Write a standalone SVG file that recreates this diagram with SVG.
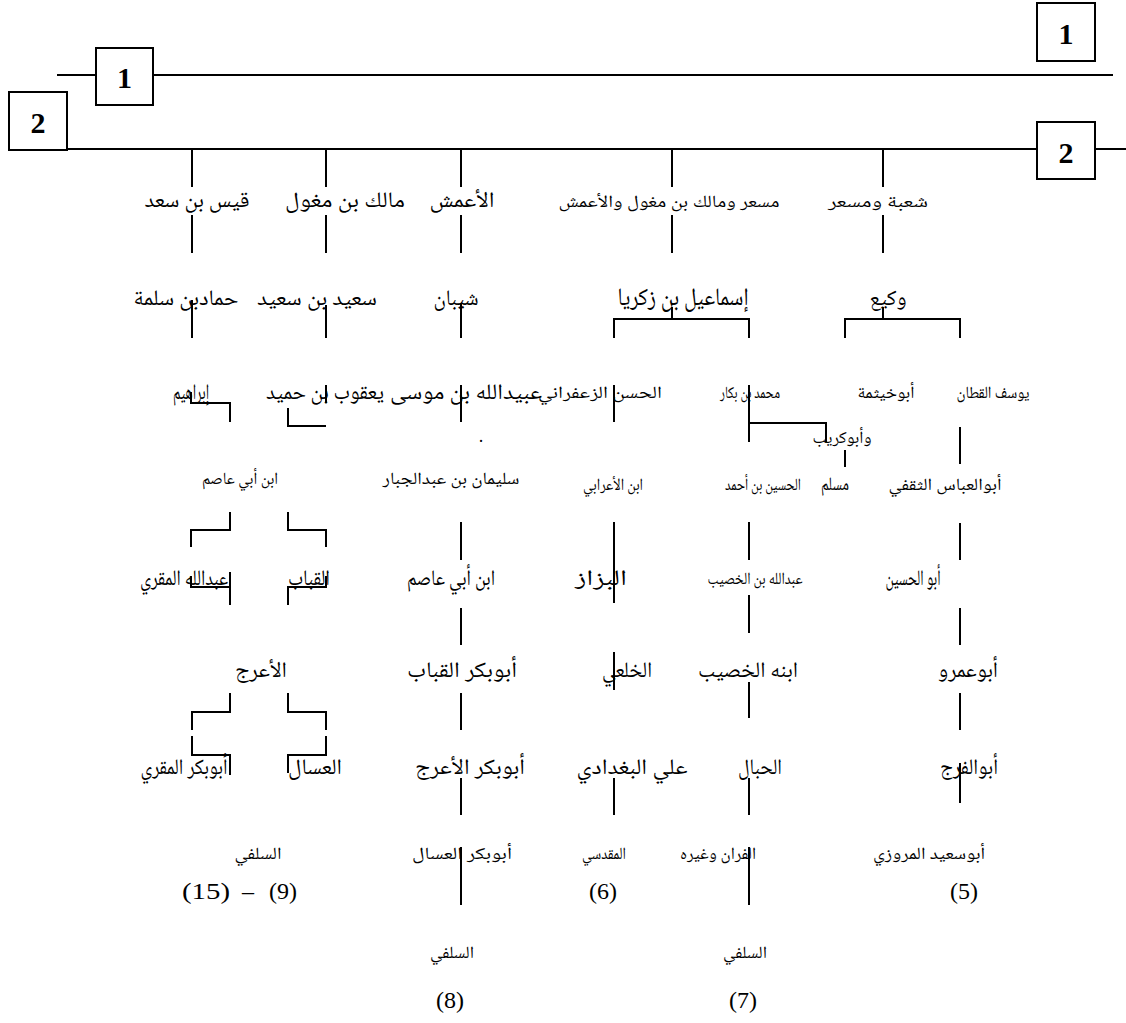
<svg xmlns="http://www.w3.org/2000/svg" width="1126" height="1023" viewBox="0 0 1126 1023">
<style>
.ln{stroke:#000;stroke-width:2;fill:none}
.bx{fill:#fff;stroke:#000;stroke-width:2}
.num{font-family:"Liberation Serif",serif;font-weight:bold;font-size:30px;text-anchor:middle}
.ar{font-family:"Noto Naskh Arabic","DejaVu Sans",sans-serif;text-anchor:middle;fill:#000}
.L{font-size:22px}
.S{font-size:17px}
.par{font-family:"Liberation Serif",serif;font-size:24px;text-anchor:middle}
</style>
<rect width="1126" height="1023" fill="#fff"/>
<g id="connectors">
<path class="ln" d="M57 75H96M153 75H1113M67 149H1037M1095 149H1126"/>
<path class="ln" d="M192 149V187M192 215V253M192 300V338"/>
<path class="ln" d="M326 149V187M326 215V253M326 305V338"/>
<path class="ln" d="M461 149V187M461 215V253M461 303V338M461 385V422M461 522V560M461 608V645M461 693V730M461 778V815M461 847V905"/>
<path class="ln" d="M672 149V187M672 215V253M672 307V319M614 338V319H749V338"/>
<path class="ln" d="M883 149V187M883 215V253M883 307V319M845 338V319H960V338"/>
<path class="ln" d="M191 392V403H230V422M326 385V403M288 408V426H326"/>
<path class="ln" d="M230 512V530H191V547M288 512V530H326V547"/>
<path class="ln" d="M191 576V587H230V605M230 572V587M326 576V587H288V605"/>
<path class="ln" d="M230 693V712H192V730M288 693V712H326V730"/>
<path class="ln" d="M192 736V755H230V775M326 736V755H288V773"/>
<path class="ln" d="M614 385V422M614 522V603M614 652V690M614 778V815"/>
<path class="ln" d="M749 385V442M749 423H826V442M749 522V560M749 595V633M749 682V718M749 778V815M749 847V905"/>
<path class="ln" d="M845 450V467"/>
<path class="ln" d="M960 427V464M960 523V560M960 608V645M960 693V730M960 763V803"/>
</g>
<g id="box1-left"><rect class="bx" x="96" y="48" width="57" height="57"/><text class="num" x="124.5" y="88">1</text></g>
<g id="box1-right"><rect class="bx" x="1037" y="3" width="58" height="58"/><text class="num" x="1066" y="44">1</text></g>
<g id="box2-left"><rect class="bx" x="9" y="92" width="58" height="58"/><text class="num" x="38" y="133">2</text></g>
<g id="box2-right"><rect class="bx" x="1037" y="122" width="58" height="57"/><text class="num" x="1066" y="163">2</text></g>

<g id="n-qays"><text class="ar L" x="197" y="207" textLength="105" lengthAdjust="spacingAndGlyphs">قيس بن سعد</text></g>
<g id="n-malik"><text class="ar L" x="345" y="207" textLength="120" lengthAdjust="spacingAndGlyphs">مالك بن مغول</text></g>
<g id="n-amash"><text class="ar L" x="462" y="207" textLength="65" lengthAdjust="spacingAndGlyphs">الأعمش</text></g>
<g id="n-misar"><text class="ar S" x="669" y="207" textLength="221" lengthAdjust="spacingAndGlyphs">مسعر ومالك بن مغول والأعمش</text></g>
<g id="n-shuba"><text class="ar S" x="878" y="207" textLength="100" lengthAdjust="spacingAndGlyphs">شعبة ومسعر</text></g>

<g id="n-hammad"><text class="ar L" x="186" y="305" textLength="105" lengthAdjust="spacingAndGlyphs">حمادبن سلمة</text></g>
<g id="n-said"><text class="ar L" x="317" y="305" textLength="120" lengthAdjust="spacingAndGlyphs">سعيد بن سعيد</text></g>
<g id="n-shayban"><text class="ar L" x="456" y="305" textLength="45" lengthAdjust="spacingAndGlyphs">شيبان</text></g>
<g id="n-ismail"><text class="ar L" x="683" y="305" textLength="131" lengthAdjust="spacingAndGlyphs" style="font-size:25px">إسماعيل بن زكريا</text></g>
<g id="n-waki"><text class="ar L" x="888" y="305" textLength="37" lengthAdjust="spacingAndGlyphs">وكيع</text></g>

<g id="n-ibrahim"><text class="ar L" x="191" y="399" textLength="36" lengthAdjust="spacingAndGlyphs">إبراهيم</text></g>
<g id="n-yaqub"><text class="ar L" x="325" y="399" textLength="118" lengthAdjust="spacingAndGlyphs">يعقوب بن حميد</text></g>
<g id="n-ubaydallah"><text class="ar L" x="466" y="399" textLength="152" lengthAdjust="spacingAndGlyphs">عبيدالله بن موسى</text></g>
<g id="n-hasan"><text class="ar S" x="600" y="398" textLength="124" lengthAdjust="spacingAndGlyphs">الحسن الزعفراني</text></g>
<g id="n-muhammad"><text class="ar S" x="750" y="398" textLength="60" lengthAdjust="spacingAndGlyphs">محمد بن بكار</text></g>
<g id="n-abukhaythama"><text class="ar S" x="886" y="398" textLength="57" lengthAdjust="spacingAndGlyphs">أبوخيثمة</text></g>
<g id="n-yusuf"><text class="ar S" x="993" y="398" textLength="73" lengthAdjust="spacingAndGlyphs">يوسف القطان</text></g>
<g id="n-abukurayb"><text class="ar S" x="842" y="443" textLength="59" lengthAdjust="spacingAndGlyphs">وأبوكريب</text></g>
<g id="dot"><text class="ar S" x="481" y="442">.</text></g>

<g id="n-ibnabiasim1"><text class="ar S" x="240" y="484" textLength="76" lengthAdjust="spacingAndGlyphs">ابن أبي عاصم</text></g>
<g id="n-sulayman"><text class="ar S" x="451" y="484" textLength="137" lengthAdjust="spacingAndGlyphs">سليمان بن عبدالجبار</text></g>
<g id="n-ibnarabi"><text class="ar S" x="613" y="490" textLength="60" lengthAdjust="spacingAndGlyphs">ابن الأعرابي</text></g>
<g id="n-husayn"><text class="ar S" x="763" y="490" textLength="76" lengthAdjust="spacingAndGlyphs">الحسين بن أحمد</text></g>
<g id="n-muslim"><text class="ar L" x="835" y="490" textLength="28" lengthAdjust="spacingAndGlyphs" style="font-size:19px">مسلم</text></g>
<g id="n-abulabbas"><text class="ar S" x="945" y="490" textLength="113" lengthAdjust="spacingAndGlyphs">أبوالعباس الثقفي</text></g>

<g id="n-abdallahmuqri"><text class="ar L" x="184" y="585" textLength="88" lengthAdjust="spacingAndGlyphs">عبدالله المقري</text></g>
<g id="n-qabbab"><text class="ar L" x="309" y="585" textLength="42" lengthAdjust="spacingAndGlyphs">القباب</text></g>
<g id="n-ibnabiasim2"><text class="ar L" x="451" y="585" textLength="88" lengthAdjust="spacingAndGlyphs">ابن أبي عاصم</text></g>
<g id="n-bazzaz"><text class="ar L" x="601" y="585" textLength="52" lengthAdjust="spacingAndGlyphs">البزاز</text></g>
<g id="n-ibnkhasib"><text class="ar S" x="755" y="584" textLength="95" lengthAdjust="spacingAndGlyphs">عبدالله بن الخصيب</text></g>
<g id="n-abulhusayn"><text class="ar L" x="913" y="585" textLength="55" lengthAdjust="spacingAndGlyphs">أبو الحسين</text></g>

<g id="n-araj"><text class="ar L" x="261" y="677" textLength="52" lengthAdjust="spacingAndGlyphs">الأعرج</text></g>
<g id="n-abubakrqabbab"><text class="ar L" x="462" y="677" textLength="110" lengthAdjust="spacingAndGlyphs">أبوبكر القباب</text></g>
<g id="n-khalai"><text class="ar L" x="627" y="677" textLength="50" lengthAdjust="spacingAndGlyphs">الخلعي</text></g>
<g id="n-ibnuhu"><text class="ar L" x="748" y="677" textLength="100" lengthAdjust="spacingAndGlyphs">ابنه الخصيب</text></g>
<g id="n-abuamr"><text class="ar L" x="968" y="677" textLength="60" lengthAdjust="spacingAndGlyphs">أبوعمرو</text></g>

<g id="n-abubakrmuqri"><text class="ar L" x="184" y="774" textLength="87" lengthAdjust="spacingAndGlyphs">أبوبكر المقري</text></g>
<g id="n-assal"><text class="ar L" x="315" y="774" textLength="54" lengthAdjust="spacingAndGlyphs">العسال</text></g>
<g id="n-abubakraraj"><text class="ar L" x="470" y="774" textLength="110" lengthAdjust="spacingAndGlyphs">أبوبكر الأعرج</text></g>
<g id="n-ali"><text class="ar L" x="632" y="774" textLength="111" lengthAdjust="spacingAndGlyphs">علي البغدادي</text></g>
<g id="n-habbal"><text class="ar L" x="760" y="774" textLength="44" lengthAdjust="spacingAndGlyphs">الحبال</text></g>
<g id="n-abulfaraj"><text class="ar L" x="969" y="774" textLength="58" lengthAdjust="spacingAndGlyphs">أبوالفرج</text></g>

<g id="n-silafi1"><text class="ar S" x="258" y="859" textLength="47" lengthAdjust="spacingAndGlyphs">السلفي</text><text class="par" x="206" y="899" textLength="48" lengthAdjust="spacingAndGlyphs">(15)</text><text class="par" x="248" y="899">–</text><text class="par" x="283" y="899">(9)</text></g>
<g id="n-abubakrassal"><text class="ar S" x="462" y="859" textLength="100" lengthAdjust="spacingAndGlyphs">أبوبكر العسال</text></g>
<g id="n-maqdisi"><text class="ar S" x="604" y="859" textLength="44" lengthAdjust="spacingAndGlyphs">المقدسي</text><text class="par" x="603" y="899">(6)</text></g>
<g id="n-farran"><text class="ar S" x="718" y="859" textLength="76" lengthAdjust="spacingAndGlyphs">الفران وغيره</text></g>
<g id="n-abusaid"><text class="ar S" x="929" y="859" textLength="112" lengthAdjust="spacingAndGlyphs">أبوسعيد المروزي</text><text class="par" x="964" y="899">(5)</text></g>
<g id="n-silafi8"><text class="ar S" x="452" y="958" textLength="44" lengthAdjust="spacingAndGlyphs">السلفي</text><text class="par" x="450" y="1008">(8)</text></g>
<g id="n-silafi7"><text class="ar S" x="745" y="958" textLength="44" lengthAdjust="spacingAndGlyphs">السلفي</text><text class="par" x="743" y="1008">(7)</text></g>
</svg>
